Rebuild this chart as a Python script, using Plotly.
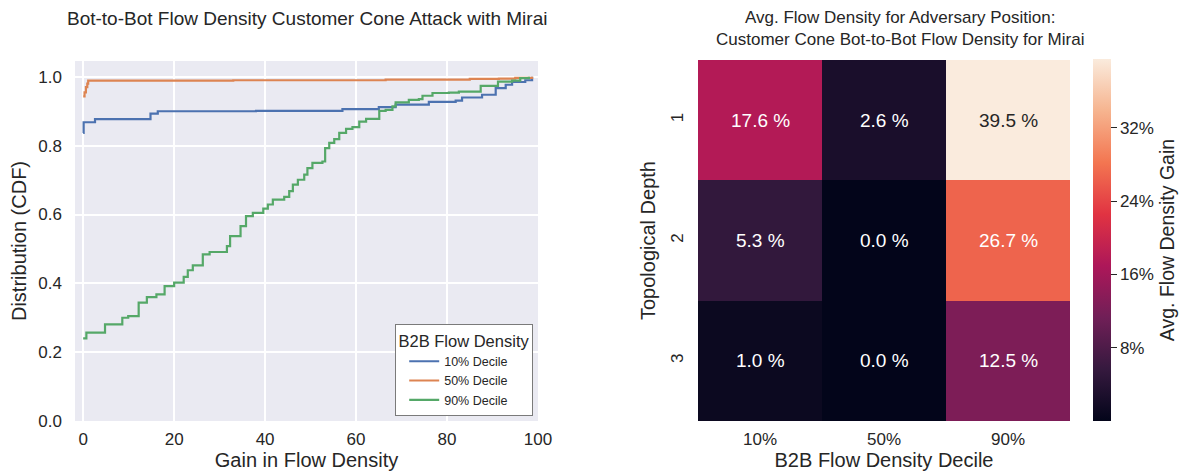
import plotly.graph_objects as go

# ---- CDF of flow-density gain per B2B decile ----
x_10 = [0, 0.1, 2.6, 14.8, 16.4, 38, 57, 65, 68.7, 76, 81.9, 83.3, 87.7, 90.7, 92.9, 94.3, 97.2, 98.7]
y_10 = [0.837, 0.868, 0.877, 0.893, 0.900, 0.901, 0.906, 0.912, 0.919, 0.927, 0.931, 0.940, 0.948,
        0.967, 0.977, 0.985, 0.990, 1.0]

x_50 = [0, 0.3, 0.6, 0.9, 1.1, 33, 66.5, 85, 91.4, 95, 98.7]
y_50 = [0.943, 0.955, 0.970, 0.980, 0.989, 0.990, 0.992, 0.994, 0.995, 0.997, 1.0]

x_90 = [0, 0.7, 4.8, 8.6, 9.9, 12.2, 14.0, 16.1, 17.9, 20.0, 22.1, 23.0, 24.1, 26.3, 27.8, 31.6,
        32.3, 34.6, 35.8, 37.3, 39.6, 40.6, 41.7, 44.2, 45.3, 46.1, 47.2, 48.6, 49.3, 50.4, 52.6,
        53.2, 54.1, 55.2, 56.3, 57.8, 59.2, 60.7, 62.2, 65.1, 66.5, 68.0, 68.7, 71.6, 73.8, 74.6,
        76.8, 80.4, 82.6, 87.4, 91.2, 94.3, 96.1, 98.0]
y_90 = [0.240, 0.257, 0.281, 0.300, 0.305, 0.344, 0.360, 0.368, 0.392, 0.402, 0.419, 0.438, 0.452,
        0.484, 0.491, 0.508, 0.537, 0.566, 0.595, 0.605, 0.617, 0.629, 0.643, 0.651, 0.668, 0.687,
        0.701, 0.716, 0.735, 0.750, 0.754, 0.793, 0.808, 0.819, 0.837, 0.849, 0.854, 0.870, 0.878,
        0.901, 0.904, 0.914, 0.926, 0.933, 0.935, 0.945, 0.953, 0.954, 0.957, 0.974, 0.986, 0.989,
        0.996, 1.0]

series_names = ["10% Decile", "50% Decile", "90% Decile"]
series_colors = ["#4c72b0", "#dd8452", "#55a868"]

# ---- Heatmap: average gain by topological depth x decile ----
deciles = ["10%", "50%", "90%"]
depths = ["1", "2", "3"]
avg_gain = [
    [17.6, 2.6, 39.5],
    [5.3, 0.0, 26.7],
    [1.0, 0.0, 12.5],
]
cbar_ticks = [8, 16, 24, 32]

# seaborn "rocket" colour map, sampled
rocket_stops = [
    (0.0, (3, 5, 26)),
    (1 / 7, (53, 25, 62)),
    (2 / 7, (112, 31, 87)),
    (3 / 7, (173, 23, 89)),
    (4 / 7, (225, 51, 66)),
    (5 / 7, (243, 118, 81)),
    (6 / 7, (246, 180, 143)),
    (1.0, (250, 235, 221)),
]
rocket = [[p, "rgb(%d,%d,%d)" % c] for p, c in rocket_stops]

W, H = 1187, 475
FONT = "Liberation Sans, Arial, sans-serif"
TXT = "#262626"


def px_x(v):
    return v / W


def px_y(v):
    return 1 - v / H


def rocket_rgb(t):
    for (p0, c0), (p1, c1) in zip(rocket_stops[:-1], rocket_stops[1:]):
        if p0 <= t <= p1:
            f = (t - p0) / (p1 - p0) if p1 > p0 else 0
            return tuple(a + (b - a) * f for a, b in zip(c0, c1))
    return rocket_stops[-1][1]


def luminance(rgb):
    vals = []
    for c in rgb:
        c = c / 255
        vals.append(c / 12.92 if c <= 0.03928 else ((c + 0.055) / 1.055) ** 2.4)
    return 0.2126 * vals[0] + 0.7152 * vals[1] + 0.0722 * vals[2]


fig = go.Figure()

for xs, ys, name, col in zip([x_10, x_50, x_90], [y_10, y_50, y_90], series_names, series_colors):
    fig.add_trace(go.Scatter(
        x=xs, y=ys, name=name, mode="lines", line=dict(color=col, width=2.2, shape="hv"),
        xaxis="x", yaxis="y",
    ))

zmin = min(min(r) for r in avg_gain)
zmax = max(max(r) for r in avg_gain)

fig.add_trace(go.Heatmap(
    z=avg_gain, x=deciles, y=depths, xaxis="x2", yaxis="y2",
    colorscale=rocket, zmin=zmin, zmax=zmax, showscale=True,
    colorbar=dict(
        x=px_x(1093), xanchor="left", xpad=0,
        y=px_y(240), yanchor="middle", ypad=0,
        len=362 / H, lenmode="fraction", thickness=18, thicknessmode="pixels",
        outlinewidth=0,
        tickvals=cbar_ticks, ticktext=["%d%%" % t for t in cbar_ticks],
        ticks="outside", ticklen=6, tickwidth=1.3, tickcolor=TXT,
        tickfont=dict(size=17, color=TXT, family=FONT),
        title=dict(text="Avg. Flow Density Gain", side="right", font=dict(size=19.5, color=TXT, family=FONT)),
    ),
    showlegend=False, hoverinfo="skip",
))

# cell labels, placed by category index; light cells get dark text
annotations = []
for i, row in enumerate(avg_gain):
    for j, v in enumerate(row):
        rgb = rocket_rgb((v - zmin) / (zmax - zmin))
        col = "white" if luminance(rgb) < 0.408 else TXT
        annotations.append(dict(
            x=j, y=i, xref="x2", yref="y2", text="%.1f %%" % v,
            showarrow=False, font=dict(size=19, color=col, family=FONT),
        ))

annotations.append(dict(
    x=px_x(307), y=px_y(18), xref="paper", yref="paper", xanchor="center", yanchor="middle",
    text="Bot-to-Bot Flow Density Customer Cone Attack with Mirai", showarrow=False,
    font=dict(size=19, color=TXT, family=FONT),
))
annotations.append(dict(
    x=px_x(900), y=px_y(28), xref="paper", yref="paper", xanchor="center", yanchor="middle",
    text="Avg. Flow Density for Adversary Position:<br>Customer Cone Bot-to-Bot Flow Density for Mirai",
    showarrow=False, align="center",
    font=dict(size=17, color=TXT, family=FONT),
))

axis_title_font = dict(size=20, color=TXT, family=FONT)
tick_font = dict(size=17, color=TXT, family=FONT)

fig.update_layout(
    width=W, height=H, margin=dict(l=0, r=0, t=0, b=0, autoexpand=False),
    paper_bgcolor="white", plot_bgcolor="#eaeaf2",
    font=dict(family=FONT, color=TXT),
    xaxis=dict(
        domain=[px_x(75), px_x(538)], range=[-1.8, 100], anchor="y", automargin=False,
        tickvals=[0, 20, 40, 60, 80, 100], showgrid=True, gridcolor="white", gridwidth=1.6,
        zeroline=False, showline=False, ticks="", tickfont=tick_font, ticklabelstandoff=6,
        title=dict(text="Gain in Flow Density", font=axis_title_font, standoff=4),
    ),
    yaxis=dict(
        domain=[px_y(421), px_y(61)], range=[0, 1.046], anchor="x", automargin=False,
        tickvals=[0, 0.2, 0.4, 0.6, 0.8, 1.0], tickformat=".1f",
        showgrid=True, gridcolor="white", gridwidth=1.6,
        zeroline=False, showline=False, ticks="", tickfont=tick_font, ticklabelstandoff=12,
        title=dict(text="Distribution (CDF)", font=axis_title_font, standoff=6),
    ),
    xaxis2=dict(
        domain=[px_x(698), px_x(1070)], anchor="y2", type="category", automargin=False,
        range=[-0.5, 2.5], showgrid=False, zeroline=False,
        ticks="", tickfont=tick_font, ticklabelstandoff=6,
        title=dict(text="B2B Flow Density Decile", font=axis_title_font, standoff=4),
    ),
    yaxis2=dict(
        domain=[px_y(421), px_y(60)], anchor="x2", type="category", range=[2.5, -0.5],
        automargin=False, showgrid=False, zeroline=False, ticks="", tickangle=-90,
        tickfont=tick_font, ticklabelstandoff=11,
        title=dict(text="Topological Depth", font=axis_title_font, standoff=6),
    ),
    legend=dict(
        x=px_x(533), xanchor="right", y=px_y(416), yanchor="bottom",
        bgcolor="white", bordercolor="#7a7a7a", borderwidth=1.2,
        title=dict(text="B2B Flow Density", side="top center", font=dict(size=16.5, color=TXT, family=FONT)),
        font=dict(size=12.5, color=TXT, family=FONT),
        tracegroupgap=0, itemwidth=30, indentation=8,
    ),
    annotations=annotations,
)

fig.write_html("out.html")
